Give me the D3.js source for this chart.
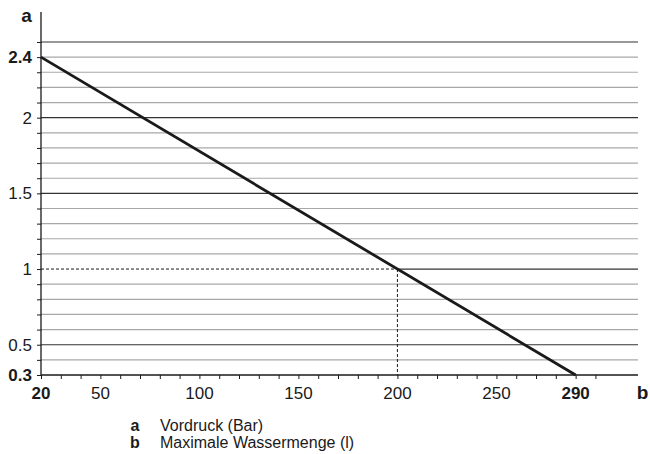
<!DOCTYPE html>
<html><head><meta charset="utf-8">
<script src="https://cdn.jsdelivr.net/npm/d3@7"></script>
<style>body{margin:0;background:#fff}svg{display:block;font-family:"Liberation Sans",Arial,sans-serif}</style>
</head><body><svg id="c" width="650" height="454"></svg>
<script>
const xDomain = [20, 321.5];
const yDomain = [0.3, 2.5];
const lineX = [20, 290];
const lineY = [2.4, 0.3];
const refX = 200, refY = 1;
const xTickValues = d3.range(20, 301, 10);
const xLabels = [20, 50, 100, 150, 200, 250, 290];
const xBoldLabels = [20, 290];
const yTickValues = d3.range(3, 26).map(d => d / 10);
const yLabels = [0.3, 0.5, 1, 1.5, 2, 2.4];
const yBoldLabels = [0.3, 2.4];
const yMajor = [0.5, 1, 1.5, 2, 2.5];
const legend = [["a", "Vordruck (Bar)"], ["b", "Maximale Wassermenge (l)"]];

const svg = d3.select("#c");
const x = d3.scaleLinear().domain(xDomain).range([41, 638]);
const y = d3.scaleLinear().domain(yDomain).range([375, 42]);
const ink = "#1a1a1a";

// grid lines
yTickValues.filter(v => v > 0.3).forEach(v => {
  const major = yMajor.some(m => Math.abs(m - v) < 1e-6);
  const startX = Math.abs(v - refY) < 1e-6 ? x(refX) : x(xDomain[0]);
  svg.append("line").attr("x1", startX).attr("x2", x(xDomain[1]))
    .attr("y1", y(v)).attr("y2", y(v))
    .attr("stroke", major ? "#333" : "#a8a8a8").attr("stroke-width", 1.2);
});

// dashed reference lines
svg.append("line").attr("x1", x(xDomain[0])).attr("x2", x(refX)).attr("y1", y(refY)).attr("y2", y(refY))
  .attr("stroke", ink).attr("stroke-width", 1).attr("stroke-dasharray", "3,2");
svg.append("line").attr("x1", x(refX)).attr("x2", x(refX)).attr("y1", y(refY)).attr("y2", y(yDomain[0]))
  .attr("stroke", ink).attr("stroke-width", 1).attr("stroke-dasharray", "3,2");

// axes
const xAxis = d3.axisBottom(x).tickValues(xTickValues).tickSize(4).tickFormat("");
const gx = svg.append("g").attr("transform", `translate(0,${y(yDomain[0])})`).call(xAxis);
gx.select(".domain").attr("stroke", ink).attr("stroke-width", 1.3).attr("d", `M${x(xDomain[0])},0H${x(xDomain[1])}`);
gx.selectAll(".tick line").attr("stroke", ink);

const yAxis = d3.axisLeft(y).tickValues(yTickValues).tickSize(4).tickFormat("");
const gy = svg.append("g").attr("transform", `translate(${x(xDomain[0])},0)`).call(yAxis);
gy.select(".domain").attr("stroke", ink).attr("stroke-width", 1.3).attr("d", `M0,12V${y(yDomain[0])}`);
gy.selectAll(".tick line").attr("stroke", ink);

// tick labels
svg.append("g").selectAll("text").data(xLabels).join("text")
  .attr("x", d => x(d)).attr("y", 399).attr("text-anchor", "middle")
  .attr("font-size", 17).attr("fill", ink)
  .attr("font-weight", d => xBoldLabels.includes(d) ? "bold" : "normal")
  .text(d => d);
svg.append("g").selectAll("text").data(yLabels).join("text")
  .attr("x", 32).attr("y", d => y(d) + 6).attr("text-anchor", "end")
  .attr("font-size", 17).attr("fill", ink)
  .attr("font-weight", d => yBoldLabels.includes(d) ? "bold" : "normal")
  .text(d => d);

// axis letters
svg.append("text").attr("x", 26.5).attr("y", 22).attr("text-anchor", "middle")
  .attr("font-size", 19).attr("font-weight", "bold").attr("fill", ink).text("a");
svg.append("text").attr("x", 642.5).attr("y", 399).attr("text-anchor", "middle")
  .attr("font-size", 19).attr("font-weight", "bold").attr("fill", ink).text("b");

// main line
svg.append("path").datum(lineX.map((v, i) => [v, lineY[i]]))
  .attr("d", d3.line().x(d => x(d[0])).y(d => y(d[1])))
  .attr("fill", "none").attr("stroke", ink).attr("stroke-width", 2.8);

// legend
const lg = svg.append("g").selectAll("g").data(legend).join("g")
  .attr("transform", (d, i) => `translate(0,${431 + i * 17})`);
lg.append("text").attr("x", 135).attr("text-anchor", "middle").attr("font-size", 16)
  .attr("font-weight", "bold").attr("fill", ink).text(d => d[0]);
lg.append("text").attr("x", 160).attr("font-size", 16).attr("fill", ink).text(d => d[1]);
</script></body></html>
